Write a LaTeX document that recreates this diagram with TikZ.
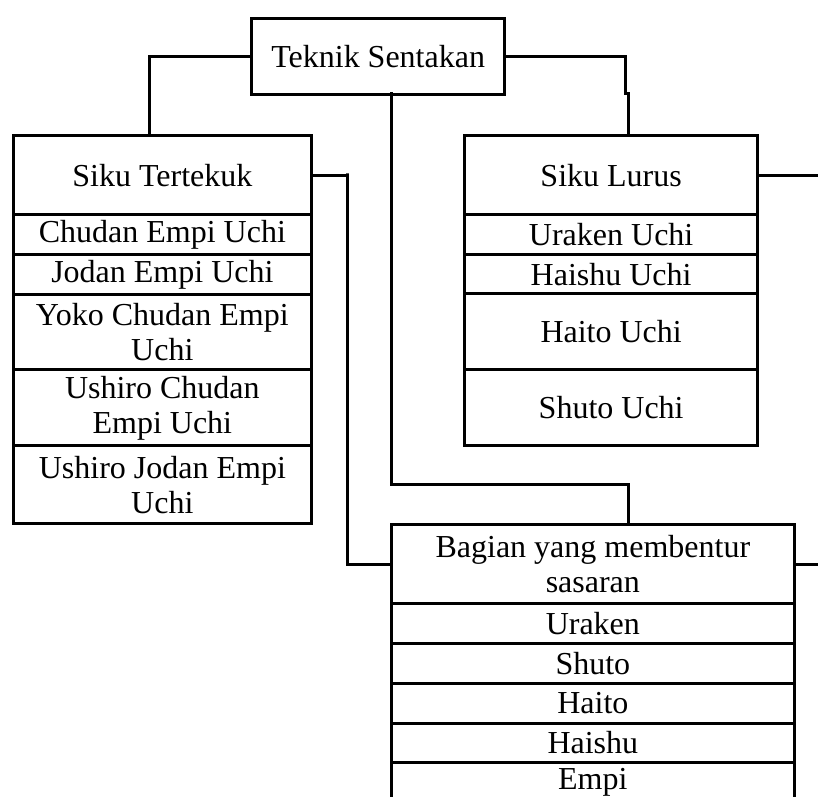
\documentclass[tikz,border=0pt]{standalone}
\usepackage{fontspec}
\setmainfont{Liberation Serif}
\newcommand{\cellfont}{\fontsize{32}{35}\selectfont}
\tikzset{
  cell/.style={draw, line width=3pt, anchor=north west, inner sep=0pt, align=center, font=\cellfont},
  leftcol/.style={cell, minimum width=298.3pt},
  rightcol/.style={cell, minimum width=292.7pt},
  botcol/.style={cell, minimum width=402.7pt},
  conn/.style={line width=3pt, line cap=rect}
}
\begin{document}
\begin{tikzpicture}[x=1pt,y=-1pt]
\useasboundingbox (0,0) rectangle (818,796);
\clip (0,0) rectangle (818,796);
% top
\node[cell, minimum width=253.3pt, minimum height=76.6pt] (teknik) at (250,16.7) {Teknik Sentakan};
% left column
\node[leftcol, minimum height=78.7pt] (tert) at (11.7,134.3) {Siku Tertekuk};
\node[leftcol, minimum height=40.3pt] (l1) at (11.7,213) {Chudan Empi Uchi};
\node[leftcol, minimum height=39.4pt] (l2) at (11.7,253.3) {Jodan Empi Uchi};
\node[leftcol, minimum height=75.6pt] (l3) at (11.7,292.7) {Yoko Chudan Empi\\Uchi};
\node[leftcol, minimum height=76pt] (l4) at (11.7,368.3) {Ushiro Chudan\\Empi Uchi};
\node[leftcol, minimum height=78pt] (l5) at (11.7,444.3) {Ushiro Jodan Empi\\Uchi};
% right column
\node[rightcol, minimum height=79pt] (lurus) at (463.3,134.3) {Siku Lurus};
\node[rightcol, minimum height=40pt] (r1) at (463.3,213.3) {Uraken Uchi};
\node[rightcol, minimum height=39pt] (r2) at (463.3,253.3) {Haishu Uchi};
\node[rightcol, minimum height=76pt] (r3) at (463.3,292.3) {Haito Uchi};
\node[rightcol, minimum height=75.7pt] (r4) at (463.3,368.3) {Shuto Uchi};
% bottom column
\node[botcol, minimum height=79pt] (bag) at (390,523.3) {Bagian yang membentur\\sasaran};
\node[botcol, minimum height=40pt] (b1) at (390,602.3) {Uraken};
\node[botcol, minimum height=39.2pt] (b2) at (390,642.3) {Shuto};
\node[botcol, minimum height=40pt] (b3) at (390,681.5) {Haito};
\node[botcol, minimum height=39.5pt] (b4) at (390,721.5) {Haishu};
\node[botcol, minimum height=40pt] (b5) at (390,761) {Empi};
% coordinates
\coordinate (tk1) at (149.5,134.3);
\coordinate (jog1) at (625.3,93.3);
\coordinate (jog2) at (628.3,93.3);
\coordinate (lu1) at (628.3,134.3);
\coordinate (tb) at (391,93.3);
\coordinate (mid1) at (391,484);
\coordinate (bg1) at (628.3,523.3);
\coordinate (tt1) at (347.5,173.3);
\coordinate (out) at (830,0);
% connectors
\draw[conn] (teknik.west) -| (tk1);
\draw[conn] (teknik.east) -| (jog1) -- (jog2) -- (lu1);
\draw[conn] (tb) -- (mid1) -| (bg1);
\draw[conn] (tert.east) -| (tt1) |- (bag.west);
\draw[conn] (lurus.east) -- (lurus.east -| out);
\draw[conn] (bag.east) -- (bag.east -| out);
\end{tikzpicture}
\end{document}
